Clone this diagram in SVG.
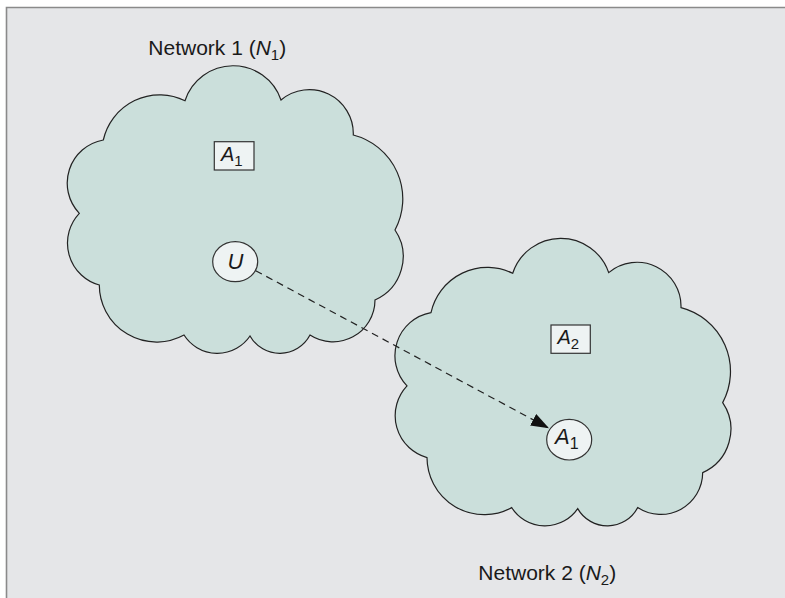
<svg xmlns="http://www.w3.org/2000/svg" xmlns:xlink="http://www.w3.org/1999/xlink" width="785" height="598" viewBox="0 0 785 598">
  <style>
    .frame { fill: #e5e6e8; }
    .edge { fill: none; stroke: #8a8a8a; stroke-width: 1.6; }
    .cloud { fill: #cbdfdb; stroke: #222; stroke-width: 1.2; }
    .node { fill: #eef3f3; stroke: #333; stroke-width: 1.2; }
    .lbl { font-family: "Liberation Sans", Arial, sans-serif; fill: #1a1a1a; }
    .title { font-size: 21px; }
    .it { font-style: italic; }
    .link { fill: none; stroke: #222; stroke-width: 1.2; stroke-dasharray: 7 5; }
  </style>
  <defs>
    <!-- scalloped outline shared by both networks -->
    <path id="cloud" d="M185,100.7 A50.6,50.6 0 0 1 281,100 A44,44 0 0 1 353.3,135 A66,66 0 0 1 395,230 A47.5,47.5 0 0 1 375,300 A42,42 0 0 1 310,335 A34.2,34.2 0 0 1 250,336 A39.5,39.5 0 0 1 184,335 A57.2,57.2 0 0 1 99.3,285 A43.5,43.5 0 0 1 79.3,213.3 A43.8,43.8 0 0 1 103.3,140 A57.7,57.7 0 0 1 185,100.7 Z"/>
    <marker id="head" markerUnits="userSpaceOnUse" markerWidth="20" markerHeight="14" refX="18" refY="6.5" orient="auto">
      <path d="M0,0 L18,6.5 L0,13 Z" fill="#111"/>
    </marker>
  </defs>

  <!-- panel: shaded field with rules on the left and top only -->
  <rect class="frame" x="6.5" y="7.5" width="778.5" height="590.5"/>
  <path class="edge" d="M6.5,598 V7.5 H785"/>

  <g id="network1">
    <use xlink:href="#cloud" class="cloud"/>
    <text class="lbl title" x="148.3" y="54.5">Network 1 (<tspan class="it">N</tspan><tspan font-size="15" dy="5">1</tspan><tspan dy="-5">)</tspan></text>
  </g>

  <g id="network2">
    <use xlink:href="#cloud" class="cloud" transform="translate(327.7,172.6)"/>
    <text class="lbl title" x="478.3" y="580">Network 2 (<tspan class="it">N</tspan><tspan font-size="15" dy="5">2</tspan><tspan dy="-5">)</tspan></text>
  </g>

  <g id="connectors">
    <line class="link" x1="255.7" y1="270.7" x2="549" y2="428.3" marker-end="url(#head)"/>
  </g>

  <g id="box-a1">
    <rect class="node" x="214.3" y="141.7" width="39.7" height="28.3"/>
    <text class="lbl" x="221" y="161" font-size="20"><tspan class="it">A</tspan><tspan font-size="15" dy="5">1</tspan></text>
  </g>

  <g id="node-u">
    <ellipse class="node" cx="235.2" cy="261.7" rx="22.5" ry="20"/>
    <text class="lbl it" x="235.4" y="269.3" font-size="22" text-anchor="middle">U</text>
  </g>

  <g id="box-a2">
    <rect class="node" x="551" y="325" width="39.3" height="28.3"/>
    <text class="lbl" x="557.5" y="344.3" font-size="20"><tspan class="it">A</tspan><tspan font-size="15" dy="5">2</tspan></text>
  </g>

  <g id="node-a1">
    <ellipse class="node" cx="569.2" cy="439.7" rx="22.5" ry="20.3"/>
    <text class="lbl" x="555" y="444.3" font-size="22"><tspan class="it">A</tspan><tspan font-size="16" dy="5">1</tspan></text>
  </g>
</svg>
